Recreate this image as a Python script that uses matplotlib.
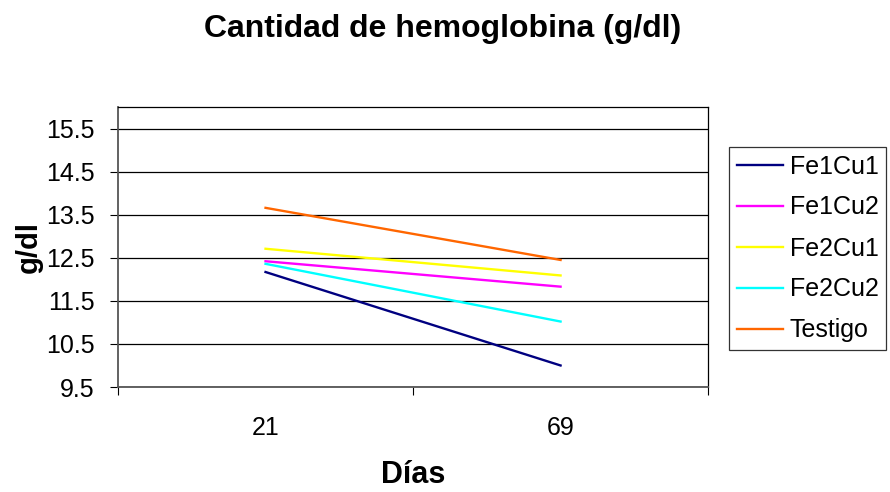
import matplotlib
matplotlib.use('Agg')
import matplotlib.pyplot as plt

plt.rcParams['font.family'] = ['Liberation Sans', 'DejaVu Sans']

dias = ['21', '69']
series = ['Fe1Cu1', 'Fe1Cu2', 'Fe2Cu1', 'Fe2Cu2', 'Testigo']
fe1cu1 = [12.17, 10.0]
fe1cu2 = [12.42, 11.83]
fe2cu1 = [12.71, 12.09]
fe2cu2 = [12.36, 11.02]
testigo = [13.66, 12.45]
colores = ['#000080', '#FF00FF', '#FFFF00', '#00FFFF', '#FF6600']
yticks = [9.5, 10.5, 11.5, 12.5, 13.5, 14.5, 15.5]

fig = plt.figure(figsize=(8.9, 4.92), dpi=100)
ax = fig.add_axes([0.1326, 0.2134, 0.663, 0.569])

x = list(range(len(dias)))
for vals, name, c in zip([fe1cu1, fe1cu2, fe2cu1, fe2cu2, testigo], series, colores):
    ax.plot(x, vals, color=c, lw=1.7, label=name)

ax.set_xlim(-0.5, 1.5)
ax.set_ylim(9.5, 16.0)
ax.set_yticks(yticks)
ax.set_yticklabels([str(v) for v in yticks], fontsize=18)
ax.set_xticks([-0.5, 0.5, 1.5])
ax.set_xticklabels([])
ax.set_xticks(x, minor=True)
ax.set_xticklabels(dias, minor=True, fontsize=18)
ax.tick_params(axis='x', which='minor', length=0, pad=21)
ax.tick_params(axis='x', which='major', length=6, color='black')
ax.tick_params(axis='y', length=6, color='black', pad=11)
ax.yaxis.grid(True, color='black', lw=0.9)
ax.set_axisbelow(True)
for s in ['top', 'right']:
    ax.spines[s].set_color('black')
    ax.spines[s].set_linewidth(0.9)
for s in ['left', 'bottom']:
    ax.spines[s].set_color('#555555')
    ax.spines[s].set_linewidth(1.3)

ax.set_ylabel('g/dl', fontsize=21, fontweight='bold', labelpad=0)
ax.yaxis.set_label_coords(-0.128, 0.5)
ax.set_xlabel('Días', fontsize=22, fontweight='bold', labelpad=14)
fig.suptitle('Cantidad de hemoglobina (g/dl)', fontsize=23, fontweight='bold', y=0.972, x=0.497)

leg = ax.legend(loc='upper left', bbox_to_anchor=(729 / 890, 1 - 147 / 492), bbox_transform=fig.transFigure,
                fontsize=18, frameon=True, fancybox=False, edgecolor='black',
                handlelength=1.85, handletextpad=0.28, labelspacing=0.68, borderpad=0.3,
                borderaxespad=0)
leg.get_frame().set_linewidth(0.9)

fig.savefig('out.png', dpi=100)
